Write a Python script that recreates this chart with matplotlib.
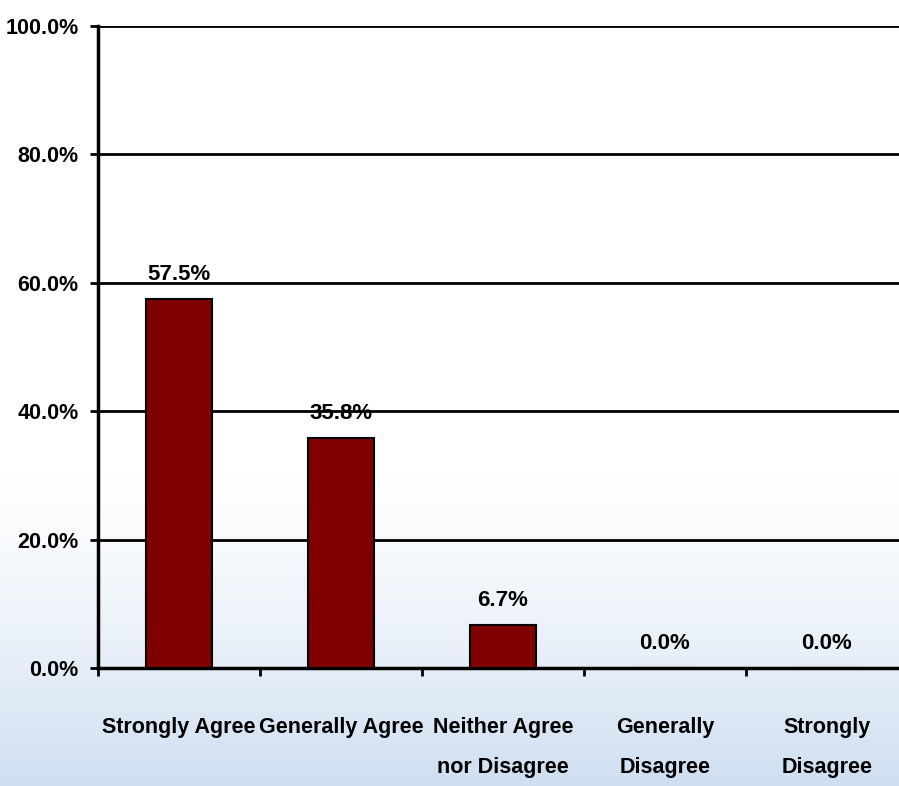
import numpy as np
import matplotlib.pyplot as plt
from matplotlib.colors import LinearSegmentedColormap

categories = ["Strongly Agree", "Generally Agree", "Neither Agree\nnor Disagree",
              "Generally\nDisagree", "Strongly\nDisagree"]
values = [57.5, 35.8, 6.7, 0.0, 0.0]
yticks = [0, 20, 40, 60, 80, 100]

plt.rcParams['font.family'] = ['Liberation Sans', 'DejaVu Sans']
plt.rcParams['font.weight'] = 'bold'

fig = plt.figure(figsize=(8.99, 7.86), dpi=100)

# pale blue backdrop fading in towards the bottom
bg = fig.add_axes([0, 0, 1, 1], zorder=-1)
grad = np.linspace(0, 1, 300)[:, None] ** 1.3
grad = np.repeat(grad, 10, axis=1)
cmap = LinearSegmentedColormap.from_list("bg", ["#ffffff", "#cfdff1"])
bg.imshow(grad, extent=[0, 1, 0, 0.40], cmap=cmap, aspect='auto', origin='upper')
bg.set_xlim(0, 1)
bg.set_ylim(0, 1)
bg.axis('off')

ax = fig.add_axes([98 / 899, 118 / 786, 810 / 899, 642 / 786])
ax.patch.set_alpha(0)

x = np.arange(len(categories))
ax.bar(x, values, width=0.41, color='#800000', edgecolor='black', linewidth=1.5, zorder=3)

for xi, v in zip(x, values):
    ax.text(xi, v + 2.2, f"{v:.1f}%", ha='center', va='bottom', fontsize=16,
            fontweight='bold', zorder=4)

ax.set_xlim(-0.5, len(categories) - 0.5)
ax.set_ylim(0, 100)
ax.set_yticks(yticks)
ax.set_yticklabels([f"{t:.1f}%" for t in yticks], fontsize=15.5, fontweight='bold')
ax.yaxis.grid(True, color='black', linewidth=2)
ax.set_axisbelow(True)

# category labels at bar centres, tick marks between categories
ax.set_xticks(x)
ax.set_xticklabels(categories, fontsize=15.5, fontweight='bold', linespacing=2.2)
ax.set_xticks(np.arange(len(categories)) - 0.5, minor=True)
ax.tick_params(axis='x', which='major', length=0, pad=35)
ax.tick_params(axis='x', which='minor', length=6, width=2, direction='out')
ax.tick_params(axis='y', length=6, width=2, direction='out', pad=8)

for side in ['top', 'right']:
    ax.spines[side].set_visible(False)
ax.spines['left'].set_linewidth(2.5)
ax.spines['bottom'].set_linewidth(2.5)

fig.savefig("out.png", dpi=100)
